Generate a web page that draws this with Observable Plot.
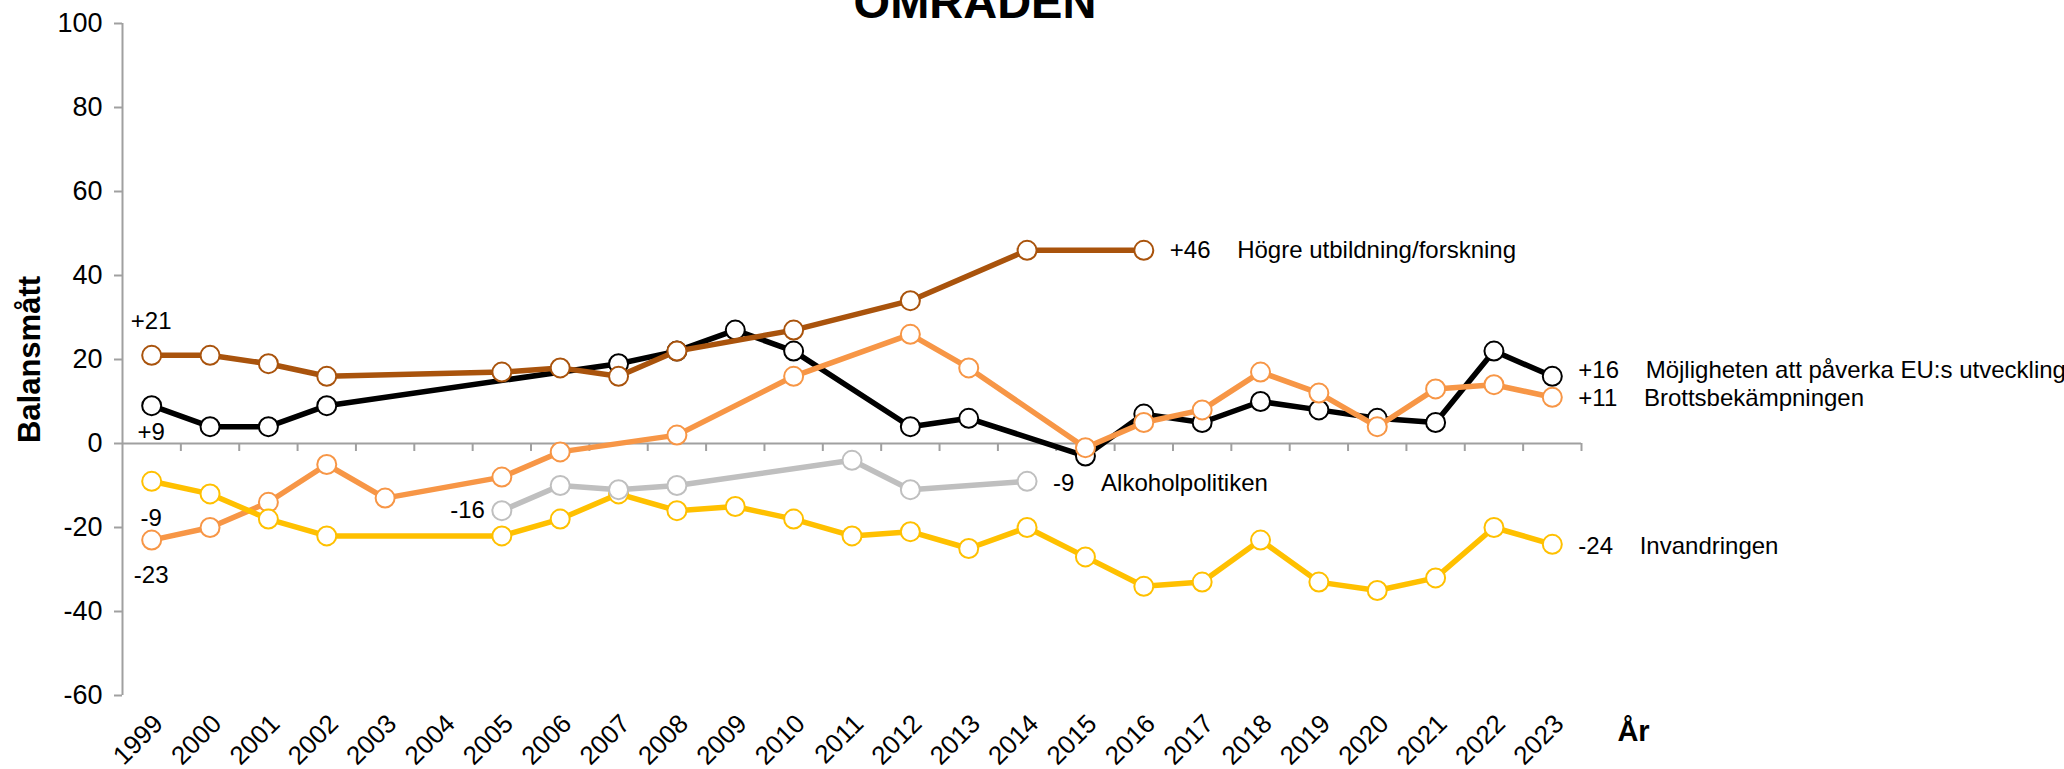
<!DOCTYPE html>
<html>
<head>
<meta charset="utf-8">
<script src="https://cdn.jsdelivr.net/npm/d3@7"></script>
<script src="https://cdn.jsdelivr.net/npm/@observablehq/plot@0.6"></script>
<style>
  html, body { margin: 0; padding: 0; background: #fff; overflow: hidden; }
  #wrap { position: relative; width: 2064px; height: 769px; }
  #title { position: absolute; left: 0; width: 1950px; top: -22px; text-align: center;
    font: bold 47px "Liberation Sans", Arial, sans-serif; line-height: 47px; color: #000; z-index: 2; }
  #chart { position: absolute; left: 0; top: 0; }
</style>
</head>
<body>
<div id="wrap">
  <div id="title">OMRÅDEN</div>
  <div id="chart"></div>
</div>
<script>
// ---- Data ----
const years = [1999, 2000, 2001, 2002, 2003, 2004, 2005, 2006, 2007, 2008, 2009, 2010, 2011,
               2012, 2013, 2014, 2015, 2016, 2017, 2018, 2019, 2020, 2021, 2022, 2023];
const euUtveckling = [9, 4, 4, 9, null, null, null, null, 19, 22, 27, 22, null,
                      4, 6, null, -3, 7, 5, 10, 8, 6, 5, 22, 16];
const brottsbekampning = [-23, -20, -14, -5, -13, null, -8, -2, null, 2, null, 16, null,
                          26, 18, null, -1, 5, 8, 17, 12, 4, 13, 14, 11];
const invandring = [-9, -12, -18, -22, null, null, -22, -18, -12, -16, -15, -18, -22,
                    -21, -25, -20, -27, -34, -33, -23, -33, -35, -32, -20, -24];
const hogreUtbildning = [21, 21, 19, 16, null, null, 17, 18, 16, 22, null, 27, null,
                         34, null, 46, null, 46, null, null, null, null, null, null, null];
const alkoholpolitik = [null, null, null, null, null, null, -16, -10, -11, -10, null, null, -4,
                        -11, null, -9, null, null, null, null, null, null, null, null, null];

const seriesNames = ["Möjligheten att påverka EU:s utveckling", "Brottsbekämpningen",
                     "Invandringen", "Högre utbildning/forskning", "Alkoholpolitiken"];
const seriesValues = [euUtveckling, brottsbekampning, invandring, hogreUtbildning, alkoholpolitik];
const seriesColors = ["#000000", "#F79646", "#FFC000", "#A9530C", "#BFBFBF"];

const yTicks = [-60, -40, -20, 0, 20, 40, 60, 80, 100];

// end-of-line labels
const endLabelYears = [2023, 2023, 2023, 2016, 2014];
const endLabelY = [17.5, 10.7, -24.5, 46, -9.5];
const endLabelNumbers = ["+16", "+11", "-24", "+46", "-9"];

// start-of-line labels
const startLabelYears = [1999, 1999, 1999, 1999];
const startLabelY = [29, 2.5, -18, -31.5];
const startLabelTexts = ["+21", "+9", "-9", "-23"];
const startLabelDx = [6, 8, 0, 0];
const gapLabelYear = 2005, gapLabelY = -16, gapLabelText = "-16";

// ---- Build ----
const xDomain = [years[0] - 0.5, years[years.length - 1] + 0.5];
const yDomain = [yTicks[0], yTicks[yTicks.length - 1]];
const axisGray = "#A0A0A0";
const font = "'Liberation Sans', Arial, sans-serif";

const seriesMarks = [];
seriesNames.forEach((name, s) => {
  const pts = years.map((yr, i) => ({year: yr, value: seriesValues[s][i]}))
                   .filter(d => d.value !== null);
  seriesMarks.push(Plot.line(pts, {x: "year", y: "value", stroke: seriesColors[s],
    strokeWidth: 5.5, strokeLinejoin: "round", strokeLinecap: "butt"}));
  seriesMarks.push(Plot.dot(pts, {x: "year", y: "value", r: 9.5, fill: "white",
    stroke: seriesColors[s], strokeWidth: 2}));
});

const endLabels = endLabelYears.map((yr, i) => ({
  x: yr, y: endLabelY[i],
  text: endLabelNumbers[i] + "\u00A0\u00A0\u00A0\u00A0" + seriesNames[i]
}));
const startLabels = startLabelYears.map((yr, i) => ({x: yr, y: startLabelY[i], text: startLabelTexts[i], dx: startLabelDx[i]}));
const boundaries = years.map(y => y + 0.5);

const plot = Plot.plot({
  width: 2064,
  height: 769,
  marginLeft: 122,
  marginRight: 483,
  marginTop: 23,
  marginBottom: 74,
  x: {domain: xDomain, axis: null},
  y: {domain: yDomain, axis: null},
  style: {fontFamily: font, background: "white", color: "black", overflow: "visible"},
  marks: [
    // y axis
    Plot.ruleX([xDomain[0]], {y1: yDomain[0], y2: yDomain[1], stroke: axisGray, strokeWidth: 2}),
    Plot.axisY({ticks: yTicks, tickSize: 8, tickPadding: 12, stroke: axisGray, strokeWidth: 2,
      fill: "black", fontSize: 27, tickFormat: d => String(d), label: null}),
    // zero line with ticks between years
    Plot.ruleY([0], {stroke: axisGray, strokeWidth: 2}),
    Plot.ruleX(boundaries, {y1: 0, y2: -1.9, stroke: axisGray, strokeWidth: 2}),
    // x axis labels
    Plot.axisX({ticks: years, tickSize: 0, tickPadding: 24, tickRotate: -45, fontSize: 26,
      dx: 7, tickFormat: d => String(d), label: null, fill: "black"}),
    // series
    ...seriesMarks,
    // labels
    Plot.text(endLabels, {x: "x", y: "y", text: "text", textAnchor: "start", dx: 26,
      fontSize: 24, fill: "black"}),
    Plot.text(startLabels, {x: "x", y: "y", text: "text", dx: "dx", fontSize: 24, fill: "black"}),
    Plot.text([gapLabelText], {x: gapLabelYear, y: gapLabelY, text: d => d, textAnchor: "end", dx: -17,
      fontSize: 24, fill: "black"}),
    // axis titles
    Plot.text(["Balansmått"], {frameAnchor: "left", text: d => d, rotate: -90, dx: -92,
      textAnchor: "middle", fontSize: 31, fontWeight: "bold", fill: "black"}),
    Plot.text(["År"], {frameAnchor: "bottom-right", text: d => d, dx: 52, dy: 45,
      textAnchor: "middle", lineAnchor: "bottom", fontSize: 29, fontWeight: "bold", fill: "black"})
  ]
});

document.getElementById("chart").appendChild(plot);
</script>
</body>
</html>
